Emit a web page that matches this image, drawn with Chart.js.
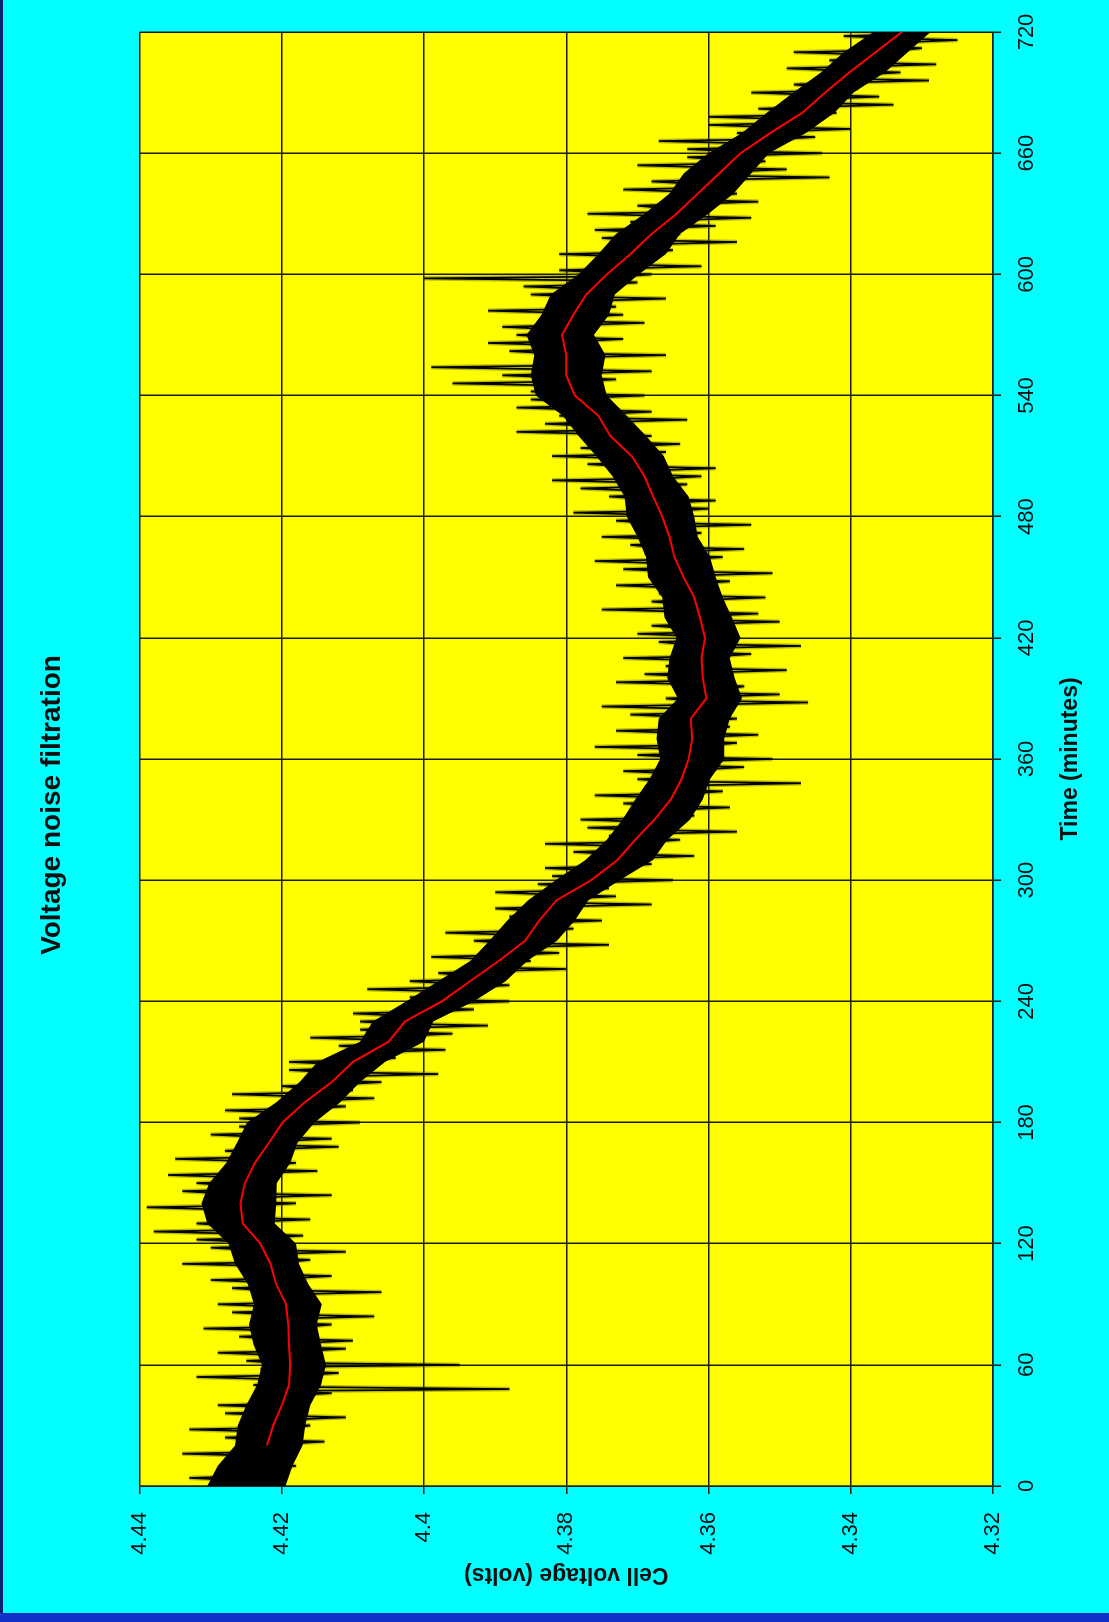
<!DOCTYPE html>
<html>
<head>
<meta charset="utf-8">
<title>Voltage noise filtration</title>
<script src="https://cdn.jsdelivr.net/npm/chart.js@4.4.1/dist/chart.umd.min.js"></script>
<style>
  html, body { margin: 0; padding: 0; }
  body {
    width: 1109px;
    height: 1622px;
    position: relative;
    overflow: hidden;
    background: #1230c8;
  }
  #leftEdge {
    position: absolute;
    left: 0; top: 0;
    width: 3px; height: 1613px;
    background: #0b2277;
  }
  /* chart is laid out in landscape and turned a quarter to the left */
  #rot {
    position: absolute;
    left: 0; top: 0;
    width: 1613px; height: 1106px;
    background: #00ffff;
    transform-origin: 0 0;
    transform: translate(3px, 1613px) rotate(-90deg);
  }
</style>
</head>
<body>
<div id="leftEdge"></div>
<div id="rot"><canvas id="voltChart" width="1613" height="1106"></canvas></div>

<script>
// Time ticks (minutes) and voltage ticks
const timeTicks = [0, 60, 120, 180, 240, 300, 360, 420, 480, 540, 600, 660, 720];
const voltTicks = [4.32, 4.34, 4.36, 4.38, 4.40, 4.42, 4.44];
const voltTickLabels = ['4.32', '4.34', '4.36', '4.38', '4.4', '4.42', '4.44'];

// Raw cell voltage, one reading per minute from 0 to 720 (20 readings per row)
const rawStep = 1;
const rawVolts = [
  4.429,4.422,4.420,4.427,4.433,4.423,4.421,4.426,4.426,4.421,4.418,4.425,4.428,4.421,4.421,4.424,4.434,4.420,4.418,4.424,
  4.425,4.419,4.414,4.424,4.428,4.420,4.419,4.423,4.433,4.418,4.416,4.423,4.425,4.418,4.411,4.422,4.428,4.417,4.418,4.422,
  4.429,4.417,4.416,4.421,4.423,4.418,4.413,4.422,4.388,4.416,4.424,4.417,4.416,4.422,4.432,4.416,4.412,4.421,4.423,4.418,
  4.395,4.421,4.425,4.417,4.415,4.422,4.429,4.416,4.411,4.421,4.422,4.416,4.410,4.422,4.426,4.417,4.417,4.421,4.431,4.416,
  4.413,4.421,4.423,4.417,4.407,4.422,4.427,4.416,4.416,4.422,4.429,4.417,4.415,4.422,4.422,4.418,4.406,4.423,4.427,4.418,
  4.417,4.423,4.430,4.418,4.413,4.424,4.424,4.419,4.419,4.423,4.434,4.419,4.416,4.424,4.426,4.420,4.411,4.425,4.430,4.420,
  4.420,4.426,4.432,4.421,4.417,4.427,4.438,4.422,4.421,4.428,4.432,4.423,4.416,4.428,4.429,4.424,4.421,4.429,4.439,4.423,
  4.418,4.428,4.431,4.423,4.413,4.429,4.434,4.423,4.422,4.428,4.432,4.422,4.421,4.427,4.436,4.423,4.415,4.427,4.426,4.422,
  4.418,4.426,4.435,4.421,4.420,4.425,4.428,4.420,4.412,4.424,4.426,4.419,4.413,4.424,4.430,4.419,4.418,4.423,4.426,4.417,
  4.409,4.422,4.426,4.417,4.415,4.421,4.428,4.415,4.411,4.420,4.420,4.414,4.407,4.418,4.427,4.413,4.410,4.417,4.420,4.411,
  4.406,4.415,4.416,4.410,4.398,4.414,4.419,4.409,4.409,4.413,4.419,4.407,4.404,4.411,4.411,4.405,4.397,4.409,4.412,4.403,
  4.401,4.407,4.416,4.402,4.396,4.406,4.409,4.401,4.391,4.405,4.409,4.400,4.399,4.404,4.410,4.398,4.393,4.401,4.403,4.396,
  4.388,4.399,4.402,4.395,4.392,4.398,4.408,4.393,4.388,4.397,4.402,4.391,4.390,4.395,4.398,4.390,4.380,4.394,4.392,4.388,
  4.385,4.391,4.399,4.387,4.381,4.390,4.391,4.385,4.374,4.389,4.393,4.384,4.381,4.388,4.397,4.383,4.379,4.387,4.387,4.382,
  4.375,4.386,4.388,4.382,4.380,4.385,4.390,4.380,4.368,4.384,4.385,4.379,4.373,4.383,4.390,4.377,4.374,4.380,4.384,4.375,
  4.365,4.378,4.382,4.374,4.372,4.377,4.383,4.372,4.368,4.375,4.376,4.370,4.362,4.374,4.379,4.369,4.367,4.373,4.383,4.368,
  4.364,4.372,4.374,4.368,4.356,4.371,4.377,4.366,4.365,4.370,4.378,4.365,4.362,4.369,4.370,4.364,4.357,4.368,4.372,4.363,
  4.361,4.367,4.376,4.362,4.358,4.366,4.369,4.361,4.347,4.366,4.370,4.361,4.361,4.366,4.372,4.360,4.355,4.365,4.367,4.361,
  4.351,4.365,4.370,4.360,4.359,4.364,4.376,4.359,4.356,4.365,4.366,4.360,4.353,4.365,4.373,4.359,4.357,4.364,4.365,4.360,
  4.356,4.365,4.371,4.360,4.359,4.364,4.375,4.359,4.346,4.363,4.366,4.358,4.350,4.363,4.364,4.357,4.355,4.362,4.373,4.359,
  4.357,4.363,4.369,4.358,4.349,4.364,4.366,4.359,4.358,4.363,4.372,4.358,4.354,4.363,4.365,4.359,4.347,4.364,4.367,4.358,
  4.356,4.363,4.370,4.358,4.358,4.364,4.368,4.359,4.350,4.363,4.365,4.359,4.353,4.364,4.375,4.360,4.358,4.365,4.368,4.359,
  4.352,4.365,4.367,4.360,4.360,4.366,4.373,4.361,4.357,4.366,4.367,4.361,4.351,4.366,4.372,4.362,4.360,4.367,4.376,4.362,
  4.358,4.367,4.369,4.362,4.355,4.368,4.371,4.363,4.363,4.367,4.375,4.363,4.361,4.368,4.369,4.364,4.354,4.369,4.373,4.364,
  4.363,4.369,4.379,4.364,4.360,4.370,4.371,4.365,4.359,4.370,4.374,4.366,4.365,4.371,4.378,4.367,4.363,4.371,4.382,4.366,
  4.361,4.371,4.373,4.367,4.359,4.372,4.377,4.368,4.367,4.373,4.382,4.369,4.366,4.373,4.378,4.370,4.364,4.375,4.377,4.371,
  4.368,4.376,4.387,4.372,4.372,4.377,4.383,4.373,4.363,4.377,4.381,4.374,4.368,4.378,4.387,4.375,4.374,4.379,4.385,4.376,
  4.369,4.381,4.385,4.377,4.375,4.382,4.396,4.378,4.373,4.382,4.389,4.378,4.368,4.383,4.399,4.377,4.375,4.382,4.384,4.378,
  4.366,4.383,4.388,4.378,4.376,4.382,4.391,4.377,4.372,4.383,4.387,4.378,4.377,4.383,4.389,4.377,4.369,4.382,4.383,4.377,
  4.372,4.381,4.391,4.376,4.373,4.380,4.381,4.375,4.366,4.379,4.385,4.375,4.373,4.379,4.386,4.374,4.370,4.377,4.400,4.372,
  4.368,4.376,4.381,4.371,4.361,4.375,4.376,4.370,4.369,4.373,4.381,4.368,4.365,4.372,4.373,4.367,4.356,4.371,4.375,4.366,
  4.364,4.370,4.376,4.365,4.359,4.369,4.371,4.363,4.354,4.367,4.377,4.362,4.360,4.367,4.370,4.361,4.353,4.365,4.365,4.359,
  4.356,4.364,4.372,4.358,4.357,4.363,4.368,4.357,4.343,4.361,4.363,4.356,4.349,4.360,4.370,4.355,4.352,4.359,4.363,4.354,
  4.344,4.357,4.363,4.352,4.350,4.356,4.367,4.350,4.345,4.354,4.356,4.348,4.340,4.352,4.360,4.347,4.346,4.350,4.360,4.345,
  4.342,4.348,4.353,4.344,4.334,4.347,4.349,4.343,4.336,4.346,4.354,4.341,4.339,4.345,4.348,4.340,4.329,4.343,4.344,4.338,
  4.333,4.342,4.349,4.337,4.328,4.341,4.343,4.336,4.334,4.339,4.348,4.333,4.330,4.337,4.339,4.332,4.325,4.335,4.341,4.331,
  4.329
];

// Solid centre of the noise band (lower / upper edge), every 10 minutes from 0 to 720
const coreStep = 10;
const coreLow = [
  4.4195, 4.4185, 4.4171, 4.4167, 4.4160, 4.4145, 4.4138, 4.4145, 4.4151, 4.4144,
  4.4163, 4.4176, 4.4180, 4.4210, 4.4208, 4.4207, 4.4188, 4.4178, 4.4154, 4.4118,
  4.4090, 4.4055, 4.4000, 4.3987, 4.3930, 4.3885, 4.3855, 4.3813, 4.3788, 4.3769,
  4.3725, 4.3678, 4.3658, 4.3626, 4.3608, 4.3598, 4.3578, 4.3578, 4.3570, 4.3553,
  4.3563, 4.3570, 4.3555, 4.3567, 4.3580, 4.3590, 4.3598, 4.3615, 4.3620, 4.3628,
  4.3650, 4.3663, 4.3688, 4.3715, 4.3743, 4.3750, 4.3745, 4.3761, 4.3740, 4.3732,
  4.3698, 4.3660, 4.3640, 4.3600, 4.3565, 4.3540, 4.3515, 4.3463, 4.3423, 4.3396,
  4.3352, 4.3320, 4.3288
];
const coreHigh = [
  4.4305, 4.4290, 4.4266, 4.4262, 4.4250, 4.4235, 4.4228, 4.4240, 4.4246, 4.4239,
  4.4248, 4.4266, 4.4275, 4.4305, 4.4313, 4.4302, 4.4278, 4.4263, 4.4249, 4.4208,
  4.4175, 4.4150, 4.4090, 4.4072, 4.4025, 4.3980, 4.3935, 4.3908, 4.3883, 4.3854,
  4.3815, 4.3773, 4.3743, 4.3721, 4.3703, 4.3683, 4.3668, 4.3673, 4.3670, 4.3643,
  4.3658, 4.3655, 4.3645, 4.3662, 4.3665, 4.3685, 4.3688, 4.3700, 4.3715, 4.3718,
  4.3735, 4.3758, 4.3783, 4.3805, 4.3843, 4.3850, 4.3845, 4.3856, 4.3835, 4.3822,
  4.3783, 4.3755, 4.3730, 4.3690, 4.3655, 4.3635, 4.3600, 4.3553, 4.3518, 4.3481,
  4.3442, 4.3410, 4.3368
];

// Filtered (smoothed) voltage, every 10 minutes from 20 to 720
const filtTimes = [
  20, 30, 40, 50, 60, 70, 80, 90, 100, 110,
  120, 130, 140, 150, 160, 170, 180, 190, 200, 210,
  220, 230, 240, 250, 260, 270, 280, 290, 300, 310,
  320, 330, 340, 350, 360, 370, 380, 390, 400, 410,
  420, 430, 440, 450, 460, 470, 480, 490, 500, 510,
  520, 530, 540, 550, 560, 570, 580, 590, 600, 610,
  620, 630, 640, 650, 660, 670, 680, 690, 700, 710,
  720
];
const filtVolts = [
  4.4221, 4.4212, 4.4200, 4.4190, 4.4188, 4.4190, 4.4191, 4.4194, 4.4208, 4.4216,
  4.4230, 4.4255, 4.4258, 4.4252, 4.4238, 4.4218, 4.4199, 4.4168, 4.4130, 4.4100,
  4.4050, 4.4027, 4.3975, 4.3935, 4.3895, 4.3858, 4.3838, 4.3814, 4.3765, 4.3728,
  4.3703, 4.3676, 4.3653, 4.3638, 4.3628, 4.3623, 4.3625, 4.3603, 4.3608, 4.3610,
  4.3605, 4.3612, 4.3620, 4.3635, 4.3648, 4.3655, 4.3665, 4.3678, 4.3690, 4.3708,
  4.3738, 4.3755, 4.3788, 4.3800, 4.3800, 4.3806, 4.3790, 4.3772, 4.3743, 4.3710,
  4.3680, 4.3645, 4.3615, 4.3585, 4.3555, 4.3513, 4.3468, 4.3436, 4.3402, 4.3365,
  4.3328
];

const FONT = "'Liberation Sans', Arial, sans-serif";
const gridColor = '#1c1c0a';

// yellow plot area
const plotBackground = {
  id: 'plotBackground',
  beforeDraw(chart) {
    const { ctx, chartArea: a } = chart;
    ctx.save();
    ctx.fillStyle = '#ffff00';
    ctx.fillRect(a.left, a.top, a.right - a.left, a.bottom - a.top);
    ctx.restore();
  }
};

const rawPoints = rawVolts.map((v, i) => ({ x: i * rawStep, y: v }));

const ctx = document.getElementById('voltChart');
new Chart(ctx, {
  type: 'line',
  data: {
    datasets: [
      {
        label: 'Filtered',
        data: filtTimes.map((t, i) => ({ x: t, y: filtVolts[i] })),
        borderColor: '#ff0000',
        borderWidth: 2,
        pointRadius: 0,
        tension: 0,
        order: 0
      },
      {
        label: 'Raw',
        data: rawPoints,
        borderColor: '#000000',
        borderWidth: 1.7,
        borderJoinStyle: 'bevel',
        pointRadius: 0,
        tension: 0,
        order: 1
      },
      {
        label: 'Core low',
        data: coreLow.map((v, i) => ({ x: i * coreStep, y: v })),
        borderWidth: 0,
        pointRadius: 0,
        tension: 0,
        fill: false,
        order: 2
      },
      {
        label: 'Core high',
        data: coreHigh.map((v, i) => ({ x: i * coreStep, y: v })),
        backgroundColor: '#000000',
        borderWidth: 0,
        pointRadius: 0,
        tension: 0,
        fill: '-1',
        order: 2
      },
      {
        // soft olive edge seen round the raw strokes
        label: 'Raw halo',
        data: rawPoints,
        borderColor: 'rgba(90, 90, 0, 0.4)',
        borderWidth: 4.5,
        borderJoinStyle: 'bevel',
        pointRadius: 0,
        tension: 0,
        order: 3
      }
    ]
  },
  options: {
    responsive: false,
    animation: false,
    layout: {
      padding: { left: 35, right: 32, top: 0, bottom: 0 }
    },
    plugins: {
      legend: { display: false },
      tooltip: { enabled: false },
      title: {
        display: true,
        text: 'Voltage noise filtration',
        color: '#111',
        font: { family: FONT, size: 28, weight: 'bold' },
        padding: { top: 32, bottom: 71 }
      }
    },
    scales: {
      x: {
        type: 'linear',
        min: 0,
        max: 720,
        afterFit: s => { s.height = 116; },
        afterBuildTicks: s => { s.ticks = timeTicks.map(v => ({ value: v })); },
        ticks: {
          autoSkip: false,
          maxRotation: 0,
          padding: 13,
          color: '#111',
          font: { family: FONT, size: 22 },
          callback: v => String(v)
        },
        grid: { color: gridColor, lineWidth: 1.5, tickLength: 8 },
        border: { color: '#222', width: 1.5 },
        title: {
          display: true,
          text: 'Time (minutes)',
          color: '#111',
          font: { family: FONT, size: 23, weight: 'bold' },
          padding: { top: 0, bottom: 25 }
        }
      },
      y: {
        type: 'linear',
        min: 4.32,
        max: 4.44,
        afterFit: s => { s.width = 92; },
        afterBuildTicks: s => { s.ticks = voltTicks.map(v => ({ value: v })); },
        ticks: {
          autoSkip: false,
          padding: 18,
          color: '#111',
          font: { family: FONT, size: 22 },
          callback: (v, i) => voltTickLabels[i]
        },
        grid: { color: gridColor, lineWidth: 1.5, tickLength: 8 },
        border: { color: '#222', width: 1.5 },
        title: {
          display: true,
          text: 'Cell voltage (volts)',
          color: '#111',
          font: { family: FONT, size: 23, weight: 'bold' },
          padding: { top: -10, bottom: 0 }
        }
      }
    }
  },
  plugins: [plotBackground]
});
</script>
</body>
</html>
